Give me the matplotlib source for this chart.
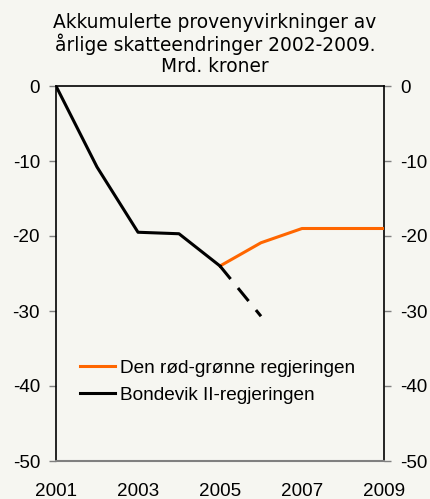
import matplotlib
matplotlib.use("Agg")
import matplotlib.pyplot as plt

years_bondevik = [2001, 2002, 2003, 2004, 2005]
bondevik = [0.0, -10.8, -19.5, -19.7, -24.0]
years_proj = [2005, 2006]
bondevik_proj = [-24.0, -30.7]
years_rg = [2005, 2006, 2007, 2008, 2009]
rodgronn = [-24.0, -20.9, -19.0, -19.0, -19.0]

title_lines = ["Akkumulerte provenyvirkninger av",
               "årlige skatteendringer 2002-2009.",
               "Mrd. kroner"]
xticks = [2001, 2003, 2005, 2007, 2009]
yticks = [0, -10, -20, -30, -40, -50]
labels = ["Den rød-grønne regjeringen", "Bondevik II-regjeringen"]

bg = "#F6F6F1"
orange = "#FF6600"
W, H = 430, 499
fig = plt.figure(figsize=(W / 100, H / 100), dpi=100, facecolor=bg)
ax = fig.add_axes([56 / W, 38 / H, (384 - 56) / W, (461 - 86) / H], facecolor=bg)

lw = 2.2
ax.plot(years_rg, rodgronn, color=orange, lw=lw, label=labels[0], zorder=3)
ax.plot(years_bondevik, bondevik, color="black", lw=lw, label=labels[1], zorder=3)
ax.plot(years_proj, bondevik_proj, color="black", lw=lw, dashes=(5.5, 3.8),
        dash_capstyle="butt", zorder=3)

ax.set_xlim(2001, 2009)
ax.set_ylim(-50, 0)
ax.set_xticks(xticks)
ax.set_yticks(yticks)
ax.set_yticklabels([str(v) for v in yticks])

font = "Liberation Sans"
ax.tick_params(axis="x", length=0, pad=15.5, labelsize=13.6)
ax.tick_params(axis="y", which="both", direction="out", length=5, width=1.0,
               color="#808080", labelsize=13.6, pad=6.5,
               left=True, right=True, labelleft=True, labelright=True)
for lab in ax.get_xticklabels() + ax.get_yticklabels():
    lab.set_fontfamily(font)

for s in ["left", "right", "top"]:
    ax.spines[s].set_color("black")
    ax.spines[s].set_linewidth(1.2)
ax.spines["bottom"].set_color("#808080")
ax.spines["bottom"].set_linewidth(1.5)

leg = ax.legend(loc="center left", bbox_to_anchor=(0.073, 0.212), frameon=False,
                prop={"family": font, "size": 13.7}, handlelength=1.84,
                handletextpad=0.26, labelspacing=0.5, borderpad=0,
                borderaxespad=0)

for i, line in enumerate(title_lines):
    fig.text(0.5, 1 - (22 + i * 22.5) / H, line, ha="center", va="center",
             fontsize=13.4, family="DejaVu Sans")

fig.savefig("out.png", dpi=100, facecolor=bg)
